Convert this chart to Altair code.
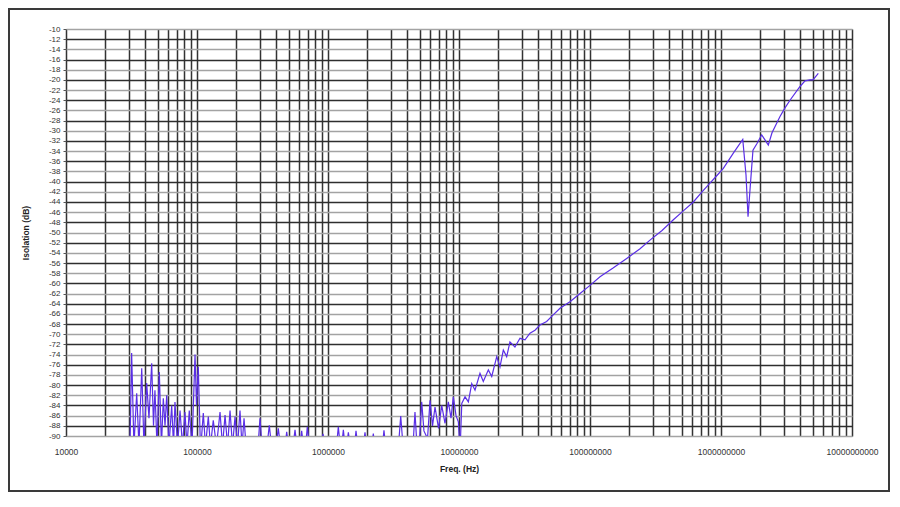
import altair as alt
import pandas as pd

# Frequency (Hz) and isolation (dB)
freq_hz = [
    30800, 31700, 33000, 34650, 36060, 37850, 39360, 41300, 43000, 45100,
    46550, 47750, 49500, 51550, 53550, 55300, 57000, 58700, 61100, 64100,
    66200, 67900, 71000, 74200, 77500, 80900, 83900, 87300, 91600, 96600,
    99100, 102300, 106400, 111700, 116100, 122000, 126700, 133100, 140800, 149900,
    156600, 163700, 171100, 178700, 186700, 195100, 203900, 212900, 220600, 228600,
    236800, 292200, 302700, 313500, 342000, 356500, 370500, 401000, 417500, 433600,
    470000, 484000, 499000, 540500, 560000, 579500, 610000, 629500, 650000, 675000,
    695000, 722500, 885000, 916000, 948000, 1160000, 1199000, 1240000, 1270000, 1310000,
    1350000, 1390000, 1430000, 1480000, 1590000, 1636000, 1690000, 1860000, 1916000, 1970000,
    2160000, 2218000, 2270000, 2600000, 2675000, 2750000, 3450000, 3590000, 3740000, 4454000,
    4613000, 4777000, 4990000, 5190000, 5400000, 5750000, 6010000, 6280000, 6560000, 6980000,
    7380000, 7820000, 8290000, 8690000, 9050000, 9490000, 9890000, 10190000, 10500000, 11120000,
    11790000, 12510000, 13250000, 14460000, 15330000, 16750000, 17780000, 19410000, 20560000, 21790000,
    23120000, 24490000, 26730000, 29220000, 31900000, 34830000, 38020000, 41500000, 46670000, 52380000,
    59020000, 70310000, 83950000, 100000000, 119200000, 150000000, 190600000, 241000000, 287000000, 354700000,
    432800000, 513000000, 615000000, 716000000, 824000000, 931000000, 1042000000, 1242000000, 1466000000, 1552000000,
    1608000000, 1665000000, 1754000000, 1883000000, 2044000000, 2166000000, 2297000000, 2451000000, 2821000000, 3080000000,
    3363000000, 4011000000, 4380000000, 4780000000, 5036000000, 5530000000,
]
isolation_db = [
    -92, -73.7, -92, -81.6, -92, -76.7, -92, -79.6, -86.5, -75.7,
    -88, -81, -92, -77.4, -92, -82.6, -88, -82, -92, -84,
    -92, -83.3, -92, -85, -92, -85.3, -92, -85, -92, -74,
    -84, -76.4, -93, -85.5, -92, -86.2, -92, -86.9, -92, -85.3,
    -92, -85.9, -92, -85, -92, -86.2, -92, -85, -92, -86.5,
    -92, -92, -86.5, -92, -92, -87.9, -92, -92, -88.5, -92,
    -92, -89.2, -92, -92, -88.8, -92, -92, -89, -92, -92,
    -88.2, -92, -92, -89.6, -92, -92, -88.2, -92, -92, -88.8,
    -92, -92, -89.3, -92, -92, -89, -92, -92, -89.3, -92,
    -92, -89.5, -92, -92, -88.9, -92, -92, -86.1, -92, -92,
    -85.3, -92, -91, -83.3, -89, -90.5, -83, -88, -84.3, -88.5,
    -84, -87.5, -83.3, -86.5, -82.3, -86, -87.2, -93, -83.6, -82.3,
    -83.3, -79.7, -81, -77.7, -79.3, -77, -78.3, -74.4, -76.4, -73.1,
    -74.4, -71.5, -72.5, -70.8, -71.1, -69.8, -69.2, -68.2, -67.5, -66.2,
    -64.9, -63.6, -62, -60.4, -58.7, -57, -55.1, -53.2, -51.5, -49.6,
    -47.5, -45.8, -44, -42, -40.3, -38.8, -37.4, -34.4, -31.7, -38.7,
    -46.9, -41.6, -33.8, -32.5, -30.8, -31.8, -32.8, -30.4, -27.2, -25.5,
    -24, -21.3, -20.2, -20, -20, -18.7,
]

decades = [10000, 100000, 1000000, 10000000, 100000000, 1000000000, 10000000000]
multipliers = [1, 2, 3, 4, 5, 6, 7, 8, 9]
x_ticks = [m * d for d in decades[:-1] for m in multipliers] + [decades[-1]]
y_ticks = list(range(-90, -9, 2))

df = pd.DataFrame({"freq": freq_hz, "db": isolation_db})

FONT = "Liberation Sans"
W, H = 786, 407
PAD = {"left": 58, "top": 21, "right": 38, "bottom": 56}

decade_list = ",".join(str(d) for d in decades)

x_enc = alt.X(
    "freq:Q",
    scale=alt.Scale(type="log", domain=[10000, 10000000000], nice=False),
    axis=alt.Axis(
        values=x_ticks,
        labelExpr=f"indexof([{decade_list}], datum.value) >= 0 ? format(datum.value, 'd') : ''",
        grid=True,
        gridColor="#333333",
        gridWidth=1.5,
        gridOpacity=1,
        ticks=False,
        domain=False,
        labelFont=FONT,
        labelFontSize=8.5,
        labelColor="#333333",
        labelPadding=11,
        labelFlush=False,
        labelOverlap=False,
        title="Freq. (Hz)",
        titleFont=FONT,
        titleFontSize=8.5,
        titleFontWeight="bold",
        titleColor="#222222",
        titlePadding=9,
    ),
)

y_enc = alt.Y(
    "db:Q",
    scale=alt.Scale(domain=[-90, -10], nice=False),
    axis=alt.Axis(
        values=y_ticks,
        labelExpr="toString(datum.value)",
        grid=True,
        gridColor={"condition": {"test": "datum.value % 4 == 0", "value": "#2e2e2e"}, "value": "#a3a3a3"},
        gridWidth=1.5,
        gridOpacity=1,
        ticks=True,
        tickSize=3,
        tickColor="#555555",
        domain=False,
        labelFont=FONT,
        labelFontSize=8,
        labelColor="#333333",
        labelPadding=3,
        labelOverlap=False,
        labelFlush=False,
        title="Isolation (dB)",
        titleFont=FONT,
        titleFontSize=8.5,
        titleFontWeight="bold",
        titleColor="#222222",
        titleX=-41,
        titleY=H / 2,
        titleAngle=-90,
        titleAlign="center",
        titleBaseline="middle",
    ),
)

line = (
    alt.Chart(df)
    .mark_line(color="#5a2fe6", strokeWidth=1.2, clip=True)
    .encode(x=x_enc, y=y_enc)
)

frame = (
    alt.Chart(pd.DataFrame({"a": [0]}))
    .mark_rect(fill=None, stroke="#3a3a3a", strokeWidth=2, clip=False)
    .encode(
        x=alt.value(-PAD["left"] + 1),
        x2=alt.value(W + PAD["right"] - 1),
        y=alt.value(-PAD["top"] + 1),
        y2=alt.value(H + PAD["bottom"] - 1),
    )
)

chart = (
    alt.layer(line, frame)
    .properties(
        width=W,
        height=H,
        padding=PAD,
        autosize=alt.AutoSizeParams(type="none"),
        background="white",
    )
    .configure_view(stroke="#a9c6cc", strokeWidth=1)
)

chart.save("out.html", embed_options={"renderer": "svg", "actions": False})
